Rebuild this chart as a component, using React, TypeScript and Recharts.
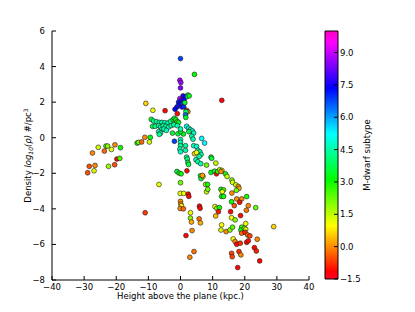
import { ComposedChart, Label, ReferenceArea, Scatter, ScatterChart, XAxis, YAxis } from 'recharts';

// height above the plane (kpc), log density, M-dwarf subtype
const heights = [
  // core near the plane
  0, 4.35, -0.2, 0.1, 0, 12.85, -10.8, -8.6, -4.8, 2.3, 1.9, 2.7, 0.8, -0.2, 0.3,
  -0.6, 1.1, -0.4, 0.6, -1.1, 0.4, 1.0, -1.7, 1.9, 2.3, 1.7, 1.55, 1.65, -1.0, 1.35,
  // arm to the left
  -9.1, -8.4, -7.5, -6.6, -5.8, -4.9, -3.9, -3.1, -2.3, -1.9, -1.45, -1.0, -0.6,
  -8.7, -7.9, -6.8, -6.2, -5.4, -4.6, -3.7, -2.9, -2.1, -5.9, -5.2, -4.4, -6.8,
  -6.2, -6.6, -2.5, -0.8, 0.9, 0, 0, -1.0,
  // diagonal to the right
  1.9, 2.5, 3.1, 3.7, 4.1, 2.6, 3.5, 3.9, 6.6, 7.5, 4.1, 5.0, 5.4, 6.0, 6.4, 5.8,
  4.35, 5.0, 4.8, 5.4, 6.3, 8.1, 9.5, 9.7, 11.0, 9.5, 10.6,
  // column at zero
  0, 0, 0, -0.2, 0, 1.55, 1.55, -1.9, 1.9, 2.1, 2.3, 2.5,
  // far left group
  -25.6, -23.2, -22.7, -23.7, -21.5, -20.4, -18.7, -27.4, -19.8, -18.9, -22.4,
  -20.5, -28.4, -26.6, -28.9, -26.9,
  -13.5, -13.1, -12.1, -11.1, -9.7, -9.4,
  // lower part
  -6.7, -11.0, -1.1, -0.4, 0.2, 2.0, 0, -0.1, 1.0, 2.4, 2.6, 0, 0.1, 0.3, -0.1, 0.9,
  3.1, 3.1, 3.4, 3.6, 1.7, 4.2, 2.9, 5.9, 6.1, 5.8, 6.2, 6.2, 6.4, 7.0, 6.8, 7.8,
  8.4, 8.1, 8.5, 11.2, 11.6, 12.2, 12.9, 12.6, 14.0, 14.5, 16.0, 16.2, 17.2, 18.0,
  18.2, 12.6, 13.4, 13.0, 12.8, 13.4, 16.0, 17.4, 17.5, 19.05, 20.6, 16.75, 15.9,
  18.4, 21.1, 23.4, 20.5, 15.6, 18.7, 15.9, 17.0, 10.7, 11.3, 12.1, 11.8, 10.95,
  12.8, 12.6, 14.2, 15.4, 16.2, 19.05, 18.8, 19.9, 20.3, 20.3, 19.05, 20.1, 20.9,
  21.6, 29.0, 23.9, 16.4, 17.0, 17.5, 18.6, 20.6, 21.1, 23.0, 23.6, 15.9, 16.1,
  18.2, 18.8, 24.65, 17.8,
];

const densities = [
  4.45, 3.56, 3.23, 3.1, 2.8, 2.1, 1.93, 1.54, 1.52, 2.4, 2.3, 2.35, 2.35, 2.2, 2.1,
  2.0, 2.14, 1.88, 1.9, 1.73, 1.73, 1.73, 1.6, 1.54, 1.46, 1.46, 1.28, 1.14, 1.35, 1.97,
  1.03, 0.94, 0.9, 0.86, 0.86, 0.84, 0.83, 0.92, 1.01, 1.09, 1.01, 0.9, 0.86,
  0.64, 0.64, 0.68, 0.6, 0.68, 0.64, 0.6, 0.68, 0.73, 0.45, 0.49, 0.41, 0.34,
  0.26, 0.19, 0.26, 0.22, 0.21, 0.34, 0.49, 0.68,
  0.64, 0.53, 0.45, 0.38, 0.26, 0.34, 0.08, -0.08, -0.04, -0.3, -0.45, -0.49, -0.71,
  -0.79, -0.94, -1.05, -0.9, -0.83, -1.24, -1.35, -1.46, -1.54, -1.09, -1.16, -1.43,
  -1.95, -1.88,
  -0.1, -0.26, -0.45, -0.64, -0.79, -0.45, -0.71, -0.2, -1.09, -1.2, -1.39, -1.5,
  -0.54, -0.47, -0.47, -0.75, -0.66, -0.4, -0.56, -0.86, -1.2, -1.16, -1.61,
  -1.52, -1.61, -1.56, -1.97, -1.86,
  -0.3, -0.26, -0.24, 0.02, -0.24, 0.02,
  -2.63, -4.22, -1.9, -1.99, -2.03, -1.86, -2.53, -3.13, -3.13, -3.17, -3.3, -3.58,
  -3.73, -3.83, -3.98, -4.0, -4.22, -4.52, -4.74, -5.22, -5.5, -6.4, -6.72, -3.85,
  -3.97, -4.56, -4.79, -2.14, -2.3, -2.18, -2.12, -2.63, -2.63, -3.04, -2.9, -2.03,
  -1.9, -1.8, -1.84, -1.9, -2.03, -2.18, -2.38, -2.51, -2.65, -2.74, -2.85, -2.9,
  -2.93, -3.04, -3.3, -3.3, -3.11, -2.96, -3.44, -3.44, -3.31, -3.82, -3.6, -3.63,
  -3.82, -3.93, -4.08, -4.16, -4.38, -4.5, -4.62, -3.87, -3.97, -3.93, -4.16, -4.4,
  -4.9, -5.19, -5.28, -5.19, -5.03, -5.03, -5.19, -5.09, -4.83, -5.15, -5.37, -5.32,
  -5.47, -5.52, -5.0, -5.71, -5.69, -5.84, -5.99, -5.93, -5.88, -5.8, -6.18, -6.37,
  -6.5, -6.69, -6.4, -6.59, -6.93, -7.3,
];

const subtypes = [
  6.8, 3.1, 8.8, 8.6, 8.4, -1.2, 0.6, 1.1, -1.1, 3.5, 4.0, 3.2, 7.6, 8.8, 7.8,
  7.2, 7.4, 7.3, 7.0, 7.2, 7.6, 7.0, 7.4, -1.1, 0.0, 4.0, 6.4, 3.4, -1.1, 3.4,
  3.5, 4.3, 4.5, 4.3, 4.5, 4.5, 4.5, 4.4, 3.6, 3.5, 3.2, 2.3, 3.2,
  3.6, 4.2, 4.5, 4.6, 4.3, 4.4, 4.6, 4.5, 4.3, 4.5, 4.5, 4.7, 4.6,
  4.5, 4.3, 3.5, 3.6, 3.3, 3.2, 4.5, 4.6,
  5.0, 4.8, 4.7, 4.9, 4.7, 3.8, 4.5, 4.5, 5.3, 5.2, 4.6, 4.7, 4.6, 4.5, 4.5, 4.4,
  0.6, 1.1, 4.6, 4.4, 4.5, 2.2, 3.5, 3.5, 1.5, 3.3, 3.5,
  4.5, 4.5, 4.3, 4.6, 4.7, 4.4, 4.4, 6.8, 4.3, 4.0, 3.8, 3.6,
  1.3, 2.5, 2.0, -0.3, 1.2, 0, 3.0, 0, -1.1, 2.5, 1.8,
  -0.5, -0.5, 0, -0.5, 1.3,
  3.0, 2.2, -0.3, 0, 1.3, 3.2,
  1.1, -0.7, 3.5, 3.2, 3.0, -1.1, 2.2, 1.2, 1.1, -1.1, -1.1, 0,
  0, 0.9, 0, -0.3, 1.1, 2.0, 0.3, 0, -1.1, -0.2, 0, -1.1,
  -1.1, -0.3, 0.3, 3.3, 3.5, 1.2, 0.2, 1.5, 3.0, 1.5, 2.2, -1.1,
  2.5, 1.5, 1.3, 0, 3.0, 1.5, 2.0, 1.3, 1.5, 0, 0.2, 3.0,
  2.5, 1.2, 3.2, 3.0, 0, 2.2, 0, 0, 3.0, -0.5, 3.0, -1.1,
  0, 2.3, -0.2, -1.1, -1.1, 1.0, 2.0, 1.2, 2.0, 3.0, -1.0, 0.4,
  1.0, 1.2, 0, 2.0, 2.4, 2.6, 3.0, 2.2, 1.1, 1.3, -0.3, -0.9,
  -0.3, -0.6, 0.6, 0, 1.0, 0, -1.1, -0.8, -1.1, -1.1, -1.1, -0.9,
  -0.6, -0.6, -0.8, 0, -1.2, -1.2,
];

const xTicks = [-40, -30, -20, -10, 0, 10, 20, 30, 40];
const yTicks = [-8, -6, -4, -2, 0, 2, 4, 6];
const cbTicks = [-1.5, 0, 1.5, 3, 4.5, 6, 7.5, 9];
const cbMin = -1.5;
const cbMax = 10;

// matplotlib gist_rainbow
const rainbow: [number, number[]][] = [
  [0, [1, 0, 0.16]],
  [0.03, [1, 0, 0]],
  [0.215, [1, 1, 0]],
  [0.4, [0, 1, 0]],
  [0.586, [0, 1, 1]],
  [0.77, [0, 0, 1]],
  [0.954, [1, 0, 1]],
  [1, [1, 0, 0.75]],
];

const rgb = (c: number[]) =>
  `rgb(${c.map((v) => Math.round(v * 255)).join(',')})`;

function colorAt(t: number) {
  const v = Math.max(0, Math.min(1, t));
  for (let i = 1; i < rainbow.length; i++) {
    const [t1, c1] = rainbow[i];
    const [t0, c0] = rainbow[i - 1];
    if (v <= t1) {
      const f = (v - t0) / (t1 - t0);
      return rgb(c0.map((a, k) => a + (c1[k] - a) * f));
    }
  }
  return rgb(rainbow[rainbow.length - 1][1]);
}

const data = heights.map((h, i) => ({ h, d: densities[i], s: subtypes[i] }));

const font = 'DejaVu Sans';
const tickStyle = { fill: '#000', fontSize: 8.5, fontFamily: font };
const line = { stroke: '#000' };
const fmt = (v: number) => String(v).replace('-', '\u2212');
const fmt1 = (v: number) => v.toFixed(1).replace('-', '\u2212');

const Dot = (props: any) => {
  const { cx, cy, payload } = props;
  return (
    <circle
      cx={cx}
      cy={cy}
      r={2.4}
      fill={colorAt((payload.s - cbMin) / (cbMax - cbMin))}
      stroke='#1a1a1a'
      strokeWidth={0.6}
    />
  );
};

export default function App() {
  return (
    <div style={{ position: 'absolute', left: 0, top: 0, width: 415, height: 312, background: '#fff' }}>
      <div style={{ position: 'absolute', left: 0, top: 0 }}>
        <ScatterChart width={415} height={312} margin={{ top: 31, right: 106, bottom: 12, left: 22 }}>
          <XAxis
            dataKey='h'
            type='number'
            domain={[-40, 40]}
            ticks={xTicks}
            tickFormatter={fmt}
            tick={tickStyle}
            tickLine={line}
            axisLine={line}
            tickSize={-4}
            tickMargin={8}
            height={20}
          >
            <Label
              content={({ viewBox }: any) => (
                <text
                  x={viewBox.x + viewBox.width / 2}
                  y={viewBox.y + 19}
                  textAnchor='middle'
                  fontFamily={font}
                  fontSize={8.5}
                  fill='#000'
                >
                  Height above the plane (kpc.)
                </text>
              )}
            />
          </XAxis>
          <YAxis
            dataKey='d'
            type='number'
            domain={[-8, 6]}
            ticks={yTicks}
            tickFormatter={fmt}
            tick={tickStyle}
            tickLine={line}
            axisLine={line}
            tickSize={-4}
            tickMargin={11}
            width={30}
          >
            <Label
              content={({ viewBox }: any) => {
                const x = viewBox.x + 9;
                const y = viewBox.y + viewBox.height / 2;
                return (
                  <text
                    x={x}
                    y={y}
                    transform={`rotate(-90, ${x}, ${y})`}
                    textAnchor='middle'
                    fontFamily={font}
                    fontSize={8.5}
                    fill='#000'
                  >
                    <tspan>Density </tspan>
                    <tspan fontStyle='italic'>log</tspan>
                    <tspan fontSize={6} fontStyle='italic' dy={1.8}>10</tspan>
                    <tspan fontStyle='italic' dy={-1.8}>(ρ)</tspan>
                    <tspan>  #/pc</tspan>
                    <tspan fontSize={6} dy={-3.2}>3</tspan>
                  </text>
                );
              }}
            />
          </YAxis>
          <XAxis
            xAxisId='top'
            orientation='top'
            type='number'
            domain={[-40, 40]}
            ticks={xTicks}
            tick={false}
            tickLine={line}
            axisLine={line}
            tickSize={-4}
            height={0}
          />
          <YAxis
            yAxisId='right'
            orientation='right'
            type='number'
            domain={[-8, 6]}
            ticks={yTicks}
            tick={false}
            tickLine={line}
            axisLine={line}
            tickSize={-4}
            width={0}
          />
          <Scatter data={data} shape={Dot} isAnimationActive={false} />
        </ScatterChart>
      </div>
      <div style={{ position: 'absolute', left: 300, top: 0 }}>
        <ComposedChart
          width={115}
          height={312}
          data={[{ x: 0, y: cbMin }, { x: 1, y: cbMax }]}
          margin={{ top: 31, right: 37, bottom: 33, left: 25 }}
        >
          <defs>
            <linearGradient id='cbGrad' x1='0' y1='1' x2='0' y2='0'>
              {rainbow.map(([t, c]) => (
                <stop key={t} offset={t} stopColor={rgb(c)} />
              ))}
            </linearGradient>
          </defs>
          <XAxis dataKey='x' type='number' domain={[0, 1]} hide />
          <YAxis
            dataKey='y'
            orientation='right'
            type='number'
            domain={[cbMin, cbMax]}
            ticks={cbTicks}
            tickFormatter={fmt1}
            tick={tickStyle}
            tickLine={line}
            axisLine={false}
            tickSize={-4}
            tickMargin={6}
            width={40}
          >
            <Label
              content={({ viewBox }: any) => {
                const x = viewBox.x + 32;
                const y = viewBox.y + viewBox.height / 2;
                return (
                  <text
                    x={x}
                    y={y}
                    transform={`rotate(-90, ${x}, ${y})`}
                    textAnchor='middle'
                    fontFamily={font}
                    fontSize={8.5}
                    fill='#000'
                  >
                    M-dwarf subtype
                  </text>
                );
              }}
            />
          </YAxis>
          <ReferenceArea
            y1={cbMin}
            y2={cbMax}
            fill='url(#cbGrad)'
            fillOpacity={1}
            stroke='#000'
            strokeWidth={1}
            ifOverflow='visible'
          />
        </ComposedChart>
      </div>
    </div>
  );
}
